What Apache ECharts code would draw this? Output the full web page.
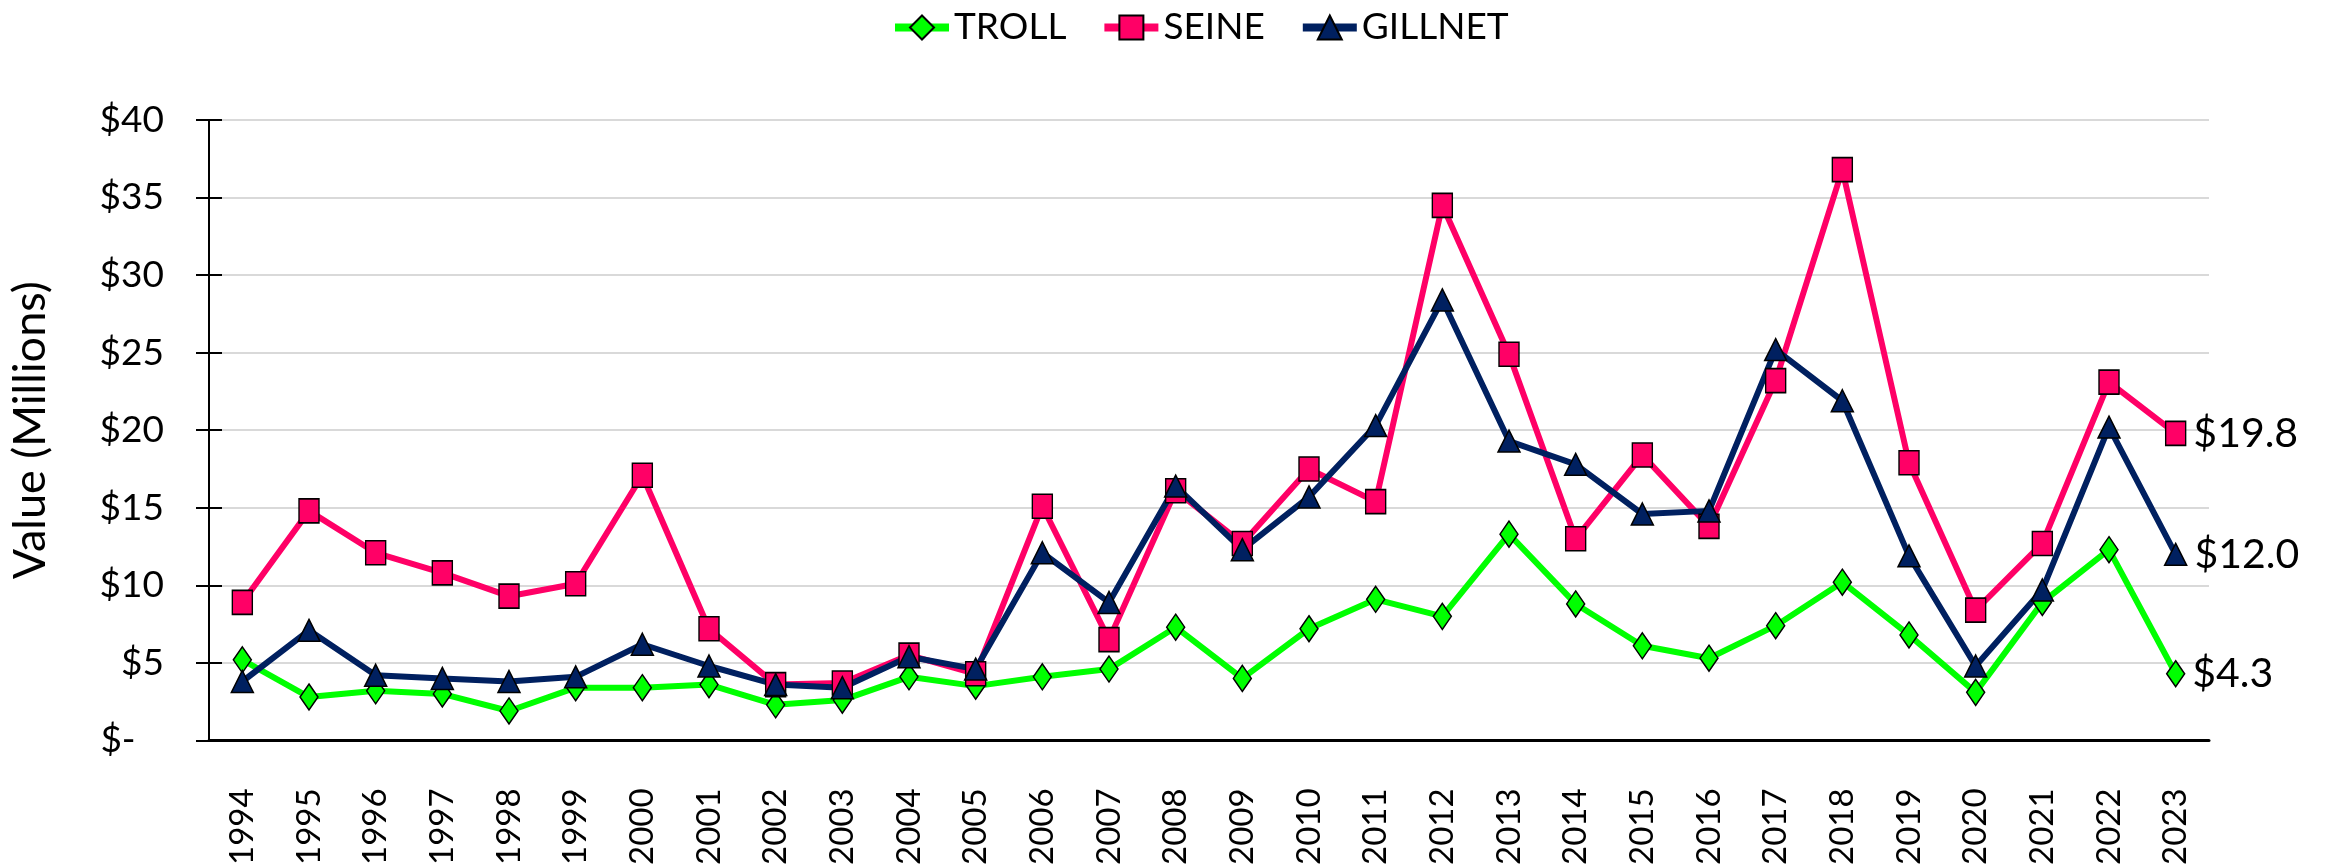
<!DOCTYPE html>
<html>
<head>
<meta charset="utf-8">
<script src="https://cdn.jsdelivr.net/npm/echarts@6/dist/echarts.min.js"></script>
<style>
  html, body { margin: 0; padding: 0; background: #fff; }
  #chart { width: 2328px; height: 868px; }
</style>
</head>
<body>
<div id="chart"></div>
<script>
const years = ['1994', '1995', '1996', '1997', '1998', '1999', '2000', '2001', '2002', '2003',
  '2004', '2005', '2006', '2007', '2008', '2009', '2010', '2011', '2012', '2013',
  '2014', '2015', '2016', '2017', '2018', '2019', '2020', '2021', '2022', '2023']

// values in $ millions
const troll = [5.2, 2.8, 3.2, 3.0, 1.9, 3.4, 3.4, 3.6, 2.3, 2.6,
  4.1, 3.5, 4.1, 4.6, 7.3, 4.0, 7.2, 9.1, 8.0, 13.3,
  8.8, 6.1, 5.3, 7.4, 10.2, 6.8, 3.1, 8.9, 12.3, 4.3]
const seine = [8.9, 14.8, 12.1, 10.8, 9.3, 10.1, 17.1, 7.2, 3.6, 3.7,
  5.5, 4.3, 15.1, 6.5, 16.1, 12.7, 17.5, 15.4, 34.5, 24.9,
  13.0, 18.4, 13.8, 23.2, 36.8, 17.9, 8.4, 12.7, 23.1, 19.8]
const gillnet = [3.8, 7.1, 4.2, 4.0, 3.8, 4.1, 6.2, 4.8, 3.6, 3.4,
  5.4, 4.6, 12.1, 8.9, 16.4, 12.3, 15.7, 20.3, 28.4, 19.3,
  17.8, 14.6, 14.8, 25.2, 21.9, 11.9, 4.8, 9.7, 20.2, 12.0]

const yMin = 0
const yMax = 40
const yStep = 5

const font = 'Lato, "Open Sans", sans-serif'

const chart = echarts.init(document.getElementById('chart'))

// label only the last point of each line
const lastLabel = {
  show: true,
  position: 'right',
  distance: 7,
  fontFamily: font,
  fontSize: 41,
  color: '#000',
  formatter: p => (p.dataIndex === years.length - 1 ? '$' + p.value.toFixed(1) : '')
}

const makeSeries = (name, data, color, symbol, size) => ({
  name,
  type: 'line',
  data,
  symbol,
  symbolSize: size,
  showAllSymbol: true,
  z: 3,
  lineStyle: { color, width: 6 },
  itemStyle: { color, borderColor: '#000', borderWidth: 1.5 },
  label: lastLabel,
  emphasis: { disabled: true }
})

const option = {
  animation: false,
  backgroundColor: '#fff',
  legend: {
    top: 4,
    left: 886,
    itemWidth: 54,
    itemHeight: 30,
    itemGap: 34,
    lineStyle: { width: 8 },
    textStyle: { fontFamily: font, fontSize: 37, color: '#000' },
    data: ['TROLL', 'SEINE', 'GILLNET']
  },
  grid: { left: 208, right: 119, top: 120, bottom: 120, containLabel: false },
  xAxis: [
    {
      type: 'category',
      data: years,
      boundaryGap: true,
      axisLine: { lineStyle: { color: '#000', width: 3 } },
      axisTick: { alignWithLabel: true, length: 11, lineStyle: { color: '#000', width: 1.5 } },
      axisLabel: {
        rotate: 90,
        margin: 48,
        fontFamily: font,
        fontSize: 33,
        color: '#000',
        interval: 0
      },
      splitLine: { show: false }
    },
    {
      type: 'category',
      data: years,
      position: 'bottom',
      boundaryGap: true,
      axisLine: { show: false },
      axisTick: { inside: true, alignWithLabel: true, length: 11, lineStyle: { color: '#000', width: 1.5 } },
      axisLabel: { show: false },
      splitLine: { show: false }
    }
  ],
  yAxis: [
    {
      type: 'value',
      min: yMin,
      max: yMax,
      interval: yStep,
      name: 'Value (Millions)',
      nameLocation: 'middle',
      nameGap: 156,
      nameTextStyle: { fontFamily: font, fontSize: 45, color: '#000' },
      axisLine: { show: true, lineStyle: { color: '#000', width: 2 } },
      axisTick: { show: true, length: 13, lineStyle: { color: '#000', width: 2 } },
      axisLabel: {
        margin: 45,
        fontFamily: font,
        fontSize: 37,
        color: '#000',
        formatter: v => (v === 0 ? '$-   ' : '$' + v)
      },
      splitLine: { lineStyle: { color: '#d9d9d9', width: 2 } }
    },
    {
      type: 'value',
      min: yMin,
      max: yMax,
      interval: yStep,
      position: 'left',
      axisLine: { show: false },
      axisTick: { show: true, inside: true, length: 13, lineStyle: { color: '#000', width: 2 } },
      axisLabel: { show: false },
      splitLine: { show: false }
    }
  ],
  series: [
    makeSeries('TROLL', troll, '#00ff00', 'diamond', [18, 26]),
    makeSeries('SEINE', seine, '#ff0066', 'rect', [20, 24]),
    makeSeries('GILLNET', gillnet, '#002060', 'triangle', [22, 22])
  ]
}

chart.setOption(option)
</script>
</body>
</html>
